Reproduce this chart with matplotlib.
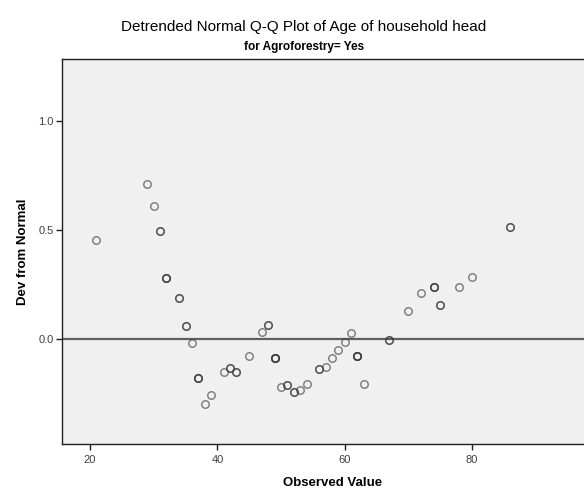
import numpy as np
import matplotlib
matplotlib.use("Agg")
from matplotlib import pyplot as plt

plt.rcParams['font.family'] = ['Liberation Sans', 'DejaVu Sans']

# observed ages, detrended deviation and number of tied cases at each age
age = [21, 29, 30, 31, 32, 34, 35, 36, 37, 38, 39, 41, 42, 43, 45, 47, 48, 49,
       50, 51, 52, 53, 54, 56, 57, 58, 59, 60, 61, 62, 63, 67, 70, 72, 74, 75,
       78, 80, 86]
dev = [0.454, 0.712, 0.609, 0.494, 0.278, 0.188, 0.061, -0.017, -0.179, -0.300,
       -0.258, -0.151, -0.133, -0.151, -0.078, 0.031, 0.063, -0.086, -0.220,
       -0.212, -0.242, -0.235, -0.206, -0.139, -0.127, -0.089, -0.050, -0.012,
       0.026, -0.077, -0.205, -0.003, 0.128, 0.212, 0.240, 0.155, 0.240, 0.283,
       0.515]
ties = [1, 1, 1, 2, 3, 2, 2, 1, 3, 1, 1, 1, 2, 2, 1, 1, 2, 4, 1, 2, 2, 1, 1, 2,
        1, 1, 1, 1, 1, 4, 1, 2, 1, 1, 3, 2, 1, 1, 2]

x_ticks = [20, 40, 60, 80]
y_ticks = [0.0, 0.5, 1.0]

fig = plt.figure(figsize=(5.84, 4.96), dpi=100)
# plot frame runs past the right edge of the figure
ax = fig.add_axes([62 / 584, 52 / 496, 540 / 584, 385 / 496])
ax.set_facecolor('#f0f0f0')

ax.axhline(0, color='#606060', lw=1.6, zorder=1)

# tied cases are drawn on top of each other so they come out darker
for a, d, n in zip(age, dev, ties):
    for _ in range(n):
        ax.plot(a, d, 'o', ms=5.4, mfc='none', mec=(0.22, 0.22, 0.22, 0.62),
                mew=1.05, zorder=3)

ax.set_xlim(15.6, 100.4)
ax.set_ylim(-0.482, 1.284)
ax.set_xticks(x_ticks)
ax.set_xticklabels([str(t) for t in x_ticks])
ax.set_yticks(y_ticks)
ax.set_yticklabels(['%.1f' % t for t in y_ticks])
ax.tick_params(direction='out', length=4, width=1, colors='#202020',
               labelcolor='#404040', labelsize=8, pad=2)
ax.tick_params(axis='x', pad=4)
for s in ax.spines.values():
    s.set_linewidth(1.0)
    s.set_color('#202020')

ax.set_xlabel('Observed Value', fontsize=9.5, fontweight='bold')
ax.xaxis.set_label_coords((333 - 62) / 540, -0.085)
ax.set_ylabel('Dev from Normal', fontsize=9.5, fontweight='bold')
ax.yaxis.set_label_coords(-(62 - 29) / 540, 0.5)

fig.text(304 / 584, 1 - 27 / 496, 'Detrended Normal Q-Q Plot of Age of household head',
         ha='center', va='center', fontsize=11)
fig.text(304 / 584, 1 - 47 / 496, 'for Agroforestry= Yes',
         ha='center', va='center', fontsize=8.5, fontweight='bold')

fig.savefig('out.png', dpi=100)
